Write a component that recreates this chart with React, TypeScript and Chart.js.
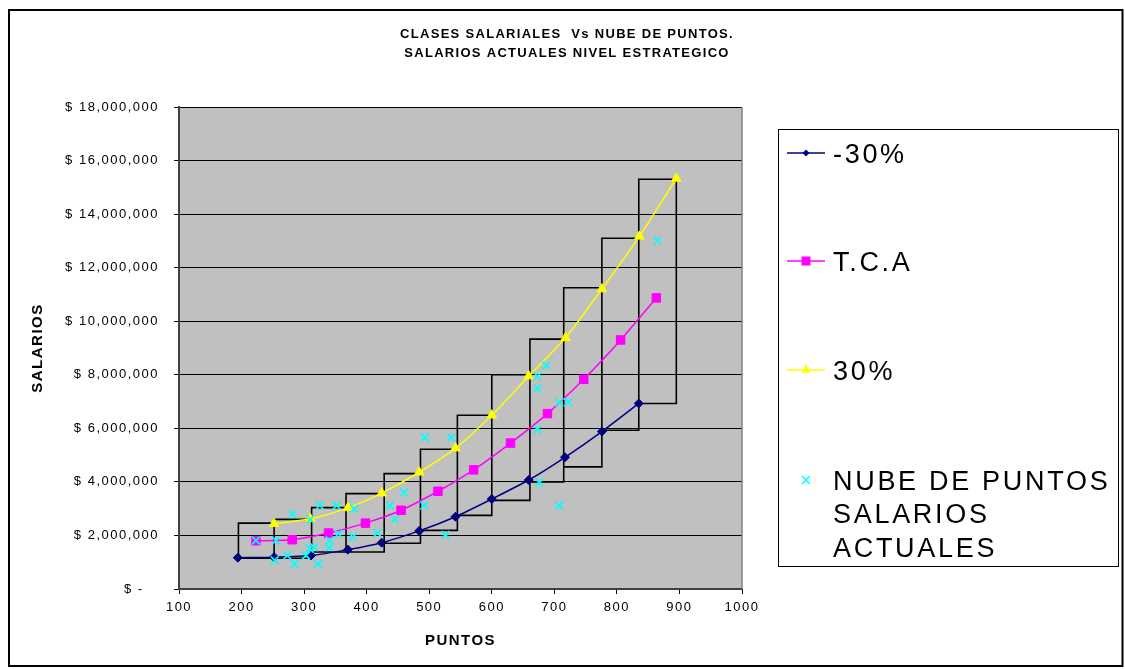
import { useEffect, useRef } from 'react';
import { Chart, registerables } from 'chart.js';

Chart.register(...registerables);

const FONT = "'Liberation Sans', Arial, Helvetica, sans-serif";

// Texts
const chartTitle = ['CLASES SALARIALES  Vs NUBE DE PUNTOS.', 'SALARIOS ACTUALES NIVEL ESTRATEGICO'];
const xAxisTitle = 'PUNTOS';
const yAxisTitle = 'SALARIOS';

// Axis ticks
const xTickValues = [100, 200, 300, 400, 500, 600, 700, 800, 900, 1000];
const xTickLabels = ['100', '200', '300', '400', '500', '600', '700', '800', '900', '1000'];
const yTickValues = [0, 2000000, 4000000, 6000000, 8000000, 10000000, 12000000, 14000000, 16000000, 18000000];
const yTickLabels = [
  '$ -   ', '$ 2,000,000', '$ 4,000,000', '$ 6,000,000', '$ 8,000,000',
  '$ 10,000,000', '$ 12,000,000', '$ 14,000,000', '$ 16,000,000', '$ 18,000,000',
];

// Salary classes: point boundaries and salary range of each class box
const classEdges = [195, 252, 312, 367, 428, 486, 545, 600, 661, 715, 776, 835, 895];
const classLowSalary = [1150000, 1150000, 1380000, 1380000, 1710000, 2190000, 2750000, 3310000, 4000000, 4560000, 5930000, 6930000];
const classHighSalary = [2460000, 2600000, 3040000, 3560000, 4310000, 5220000, 6490000, 8000000, 9330000, 11250000, 13100000, 15300000];

// Series -30%
const minus30Points = [194, 252, 311, 370, 424, 484, 542, 600, 659, 717, 776, 835];
const minus30Salary = [1170000, 1190000, 1250000, 1470000, 1730000, 2170000, 2700000, 3360000, 4070000, 4920000, 5880000, 6930000];

// Series T.C.A
const tcaPoints = [223, 281, 339, 398, 455, 514, 571, 630, 689, 747, 806, 863];
const tcaSalary = [1800000, 1840000, 2090000, 2460000, 2940000, 3650000, 4450000, 5450000, 6550000, 7830000, 9300000, 10870000];

// Series 30%
const plus30Points = [252, 310, 370, 424, 484, 542, 600, 659, 718, 776, 836, 895];
const plus30Salary = [2440000, 2620000, 3030000, 3580000, 4360000, 5260000, 6490000, 7950000, 9380000, 11200000, 13170000, 15330000];

// Current salaries cloud
const cloudPoints = [
  223, 255, 282, 253, 273, 285, 303, 309, 316, 322, 310, 325, 352, 341, 340, 355,
  378, 380, 417, 437, 445, 460, 492, 493, 535, 526, 673, 708, 722, 673, 676, 708,
  865, 687, 673,
];
const cloudSalary = [
  1810000, 1810000, 2790000, 1070000, 1250000, 940000, 1250000, 1500000, 1560000, 940000, 2600000, 3120000, 3120000, 1810000, 1560000, 2060000,
  1940000, 3000000, 2090000, 3120000, 2600000, 3600000, 3120000, 5660000, 5660000, 2030000, 7490000, 6970000, 6970000, 5960000, 3970000, 3120000,
  13010000, 8360000, 7950000,
];

const NAVY = '#000080';
const MAGENTA = '#FF00FF';
const YELLOW = '#FFFF00';
const CYAN = '#00FFFF';

const legendItems = [
  { lines: ['-30%'], color: NAVY, marker: 'diamond' },
  { lines: ['T.C.A'], color: MAGENTA, marker: 'square' },
  { lines: ['30%'], color: YELLOW, marker: 'triangle' },
  { lines: ['NUBE DE PUNTOS', 'SALARIOS', 'ACTUALES'], color: CYAN, marker: 'cross' },
];

const toXY = (xs: number[], ys: number[]) => xs.map((x, i) => ({ x, y: ys[i] }));

function buildBoxes() {
  const pts: { x: number; y: number | null }[] = [];
  for (let i = 0; i < classLowSalary.length; i++) {
    const x0 = classEdges[i];
    const x1 = classEdges[i + 1];
    const lo = classLowSalary[i];
    const hi = classHighSalary[i];
    pts.push({ x: x0, y: lo }, { x: x1, y: lo }, { x: x1, y: hi }, { x: x0, y: hi }, { x: x0, y: lo }, { x: x1, y: null });
  }
  return pts;
}

function drawMarker(ctx: CanvasRenderingContext2D, kind: string, x: number, y: number, color: string) {
  ctx.save();
  ctx.fillStyle = color;
  ctx.strokeStyle = color;
  ctx.beginPath();
  if (kind === 'diamond') {
    const r = 3.5;
    ctx.moveTo(x - r, y); ctx.lineTo(x, y - r); ctx.lineTo(x + r, y); ctx.lineTo(x, y + r);
    ctx.closePath(); ctx.fill();
  } else if (kind === 'square') {
    const h = 4.5;
    ctx.rect(x - h, y - h, 2 * h, 2 * h); ctx.fill();
  } else if (kind === 'triangle') {
    const r = 5.5;
    ctx.moveTo(x, y - r); ctx.lineTo(x + r * 0.866, y + r * 0.5); ctx.lineTo(x - r * 0.866, y + r * 0.5);
    ctx.closePath(); ctx.fill();
  } else {
    const h = 4;
    ctx.lineWidth = 1.5;
    ctx.moveTo(x - h, y - h); ctx.lineTo(x + h, y + h);
    ctx.moveTo(x + h, y - h); ctx.lineTo(x - h, y + h);
    ctx.stroke();
  }
  ctx.restore();
}

const decorPlugin = {
  id: 'decor',
  beforeDraw(chart: any) {
    const { ctx, chartArea: a, width, height } = chart;
    ctx.save();
    ctx.fillStyle = '#FFFFFF';
    ctx.fillRect(0, 0, width, height);
    ctx.fillStyle = '#C0C0C0';
    ctx.fillRect(a.left, a.top, a.right - a.left, a.bottom - a.top);
    ctx.restore();
    ctx.letterSpacing = '1.5px';
  },
  beforeDatasetsDraw(chart: any) {
    const { ctx, chartArea: a } = chart;
    ctx.save();
    ctx.strokeStyle = '#808080';
    ctx.lineWidth = 1.5;
    ctx.beginPath();
    ctx.moveTo(a.right, a.top);
    ctx.lineTo(a.right, a.bottom);
    ctx.stroke();
    ctx.restore();
  },
  afterDraw(chart: any) {
    const { ctx } = chart;
    ctx.save();
    ctx.fillStyle = '#000';
    ctx.textBaseline = 'alphabetic';

    // chart title
    ctx.letterSpacing = '1.3px';
    ctx.font = `bold 13px ${FONT}`;
    ctx.textAlign = 'center';
    ctx.fillText(chartTitle[0], 567, 38);
    ctx.fillText(chartTitle[1], 567, 57);

    // legend
    ctx.lineWidth = 1;
    ctx.strokeStyle = '#000';
    ctx.strokeRect(778.5, 129.5, 340, 437);
    ctx.letterSpacing = '2.7px';
    ctx.font = `27px ${FONT}`;
    ctx.textAlign = 'left';
    const rowY = [153, 261, 370, 480];
    legendItems.forEach((item, i) => {
      const cy = rowY[i];
      if (item.marker !== 'cross') {
        ctx.save();
        ctx.strokeStyle = item.color;
        ctx.lineWidth = 1.5;
        ctx.beginPath();
        ctx.moveTo(787, cy);
        ctx.lineTo(825, cy);
        ctx.stroke();
        ctx.restore();
      }
      drawMarker(ctx, item.marker, 806, cy, item.color);
      item.lines.forEach((line, j) => {
        ctx.fillText(line, 833, cy + 9.7 + j * 33.5);
      });
    });

    // outer frame
    ctx.letterSpacing = '0px';
    ctx.lineWidth = 2;
    ctx.strokeStyle = '#000';
    ctx.strokeRect(9, 10, 1113.5, 656);
    ctx.restore();
  },
};

export default function App() {
  const ref = useRef<HTMLCanvasElement>(null);

  useEffect(() => {
    if (!ref.current) return;
    const chart = new Chart(ref.current, {
      type: 'scatter',
      data: {
        datasets: [
          {
            label: 'NUBE DE PUNTOS SALARIOS ACTUALES',
            data: toXY(cloudPoints, cloudSalary),
            showLine: false,
            pointStyle: 'crossRot',
            pointRadius: 5.5,
            borderColor: CYAN,
            backgroundColor: CYAN,
            pointBorderWidth: 1.7,
            order: 0,
          },
          {
            label: '-30%',
            data: toXY(minus30Points, minus30Salary),
            showLine: true,
            tension: 0.25,
            borderColor: NAVY,
            backgroundColor: NAVY,
            borderWidth: 1.5,
            pointStyle: 'rectRot',
            pointRadius: 4.5,
            pointBorderWidth: 1,
            order: 1,
          },
          {
            label: 'T.C.A',
            data: toXY(tcaPoints, tcaSalary),
            showLine: true,
            tension: 0.25,
            borderColor: MAGENTA,
            backgroundColor: MAGENTA,
            borderWidth: 1.5,
            pointStyle: 'rect',
            pointRadius: 6,
            pointBorderWidth: 1,
            order: 2,
          },
          {
            label: '30%',
            data: toXY(plus30Points, plus30Salary),
            showLine: true,
            tension: 0.25,
            borderColor: YELLOW,
            backgroundColor: YELLOW,
            borderWidth: 1.5,
            pointStyle: 'triangle',
            pointRadius: 5.5,
            pointBorderWidth: 1,
            order: 3,
          },
          {
            label: 'Clases',
            data: buildBoxes() as any,
            showLine: true,
            spanGaps: false,
            tension: 0,
            borderColor: '#000000',
            borderWidth: 1.6,
            pointRadius: 0,
            order: 10,
          },
        ],
      },
      options: {
        responsive: false,
        animation: false,
        events: [],
        layout: { padding: { top: 107, right: 383, bottom: 0, left: 0 } },
        plugins: {
          legend: { display: false },
          tooltip: { enabled: false },
          title: { display: false },
        },
        font: { family: FONT },
        scales: {
          x: {
            type: 'linear',
            min: 100,
            max: 1000,
            afterBuildTicks: (scale: any) => {
              scale.ticks = xTickValues.map((v) => ({ value: v }));
            },
            afterFit: (scale: any) => {
              scale.height = 80;
            },
            ticks: {
              autoSkip: false,
              maxRotation: 0,
              padding: 6,
              color: '#000',
              font: { family: FONT, size: 13 },
              callback: (v: any) => xTickLabels[xTickValues.indexOf(Number(v))],
            },
            grid: {
              drawOnChartArea: false,
              drawTicks: true,
              tickLength: 5,
              tickColor: '#000',
              color: '#000',
            },
            border: { display: true, color: '#404040', width: 2 },
            title: {
              display: true,
              text: xAxisTitle,
              color: '#000',
              font: { family: FONT, size: 15, weight: 'bold' },
              padding: { top: 0, bottom: 19 },
            },
          },
          y: {
            type: 'linear',
            min: 0,
            max: 18000000,
            afterBuildTicks: (scale: any) => {
              scale.ticks = yTickValues.map((v) => ({ value: v }));
            },
            afterFit: (scale: any) => {
              scale.width = 179;
            },
            ticks: {
              autoSkip: false,
              padding: 15,
              color: '#000',
              font: { family: FONT, size: 13 },
              callback: (v: any) => yTickLabels[yTickValues.indexOf(Number(v))],
            },
            grid: {
              drawOnChartArea: true,
              drawTicks: true,
              tickLength: 5,
              tickColor: '#000',
              color: '#000',
              lineWidth: 1,
            },
            border: { display: true, color: '#404040', width: 2 },
            title: {
              display: true,
              text: yAxisTitle,
              color: '#000',
              font: { family: FONT, size: 15, weight: 'bold' },
              padding: { top: 29, bottom: 0 },
            },
          },
        },
      } as any,
      plugins: [decorPlugin],
    });
    return () => chart.destroy();
  }, []);

  return (
    <div style={{ position: 'fixed', left: 0, top: 0, width: 1125, height: 669, background: '#fff' }}>
      <canvas ref={ref} width={1125} height={669} style={{ display: 'block', width: 1125, height: 669 }} />
    </div>
  );
}
